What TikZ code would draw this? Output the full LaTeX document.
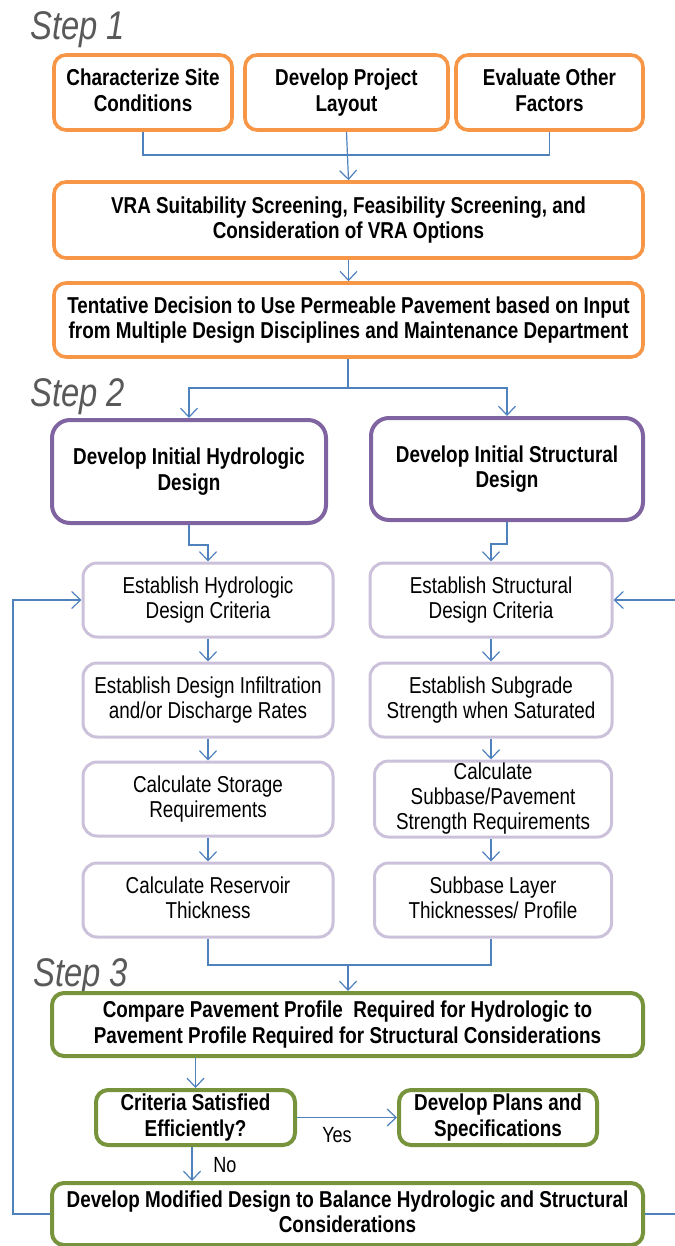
\documentclass[tikz,border=0pt]{standalone}
\usepackage{fontspec}
\setmainfont{Liberation Sans}[FakeStretch=0.82]
\usetikzlibrary{arrows.meta}
\definecolor{orng}{HTML}{F79646}
\definecolor{purp}{HTML}{8064A2}
\definecolor{lav}{HTML}{CCC1DA}
\definecolor{grn}{HTML}{77933C}
\definecolor{arr}{HTML}{4F81BD}
\definecolor{stepgray}{HTML}{595959}
\newcommand{\mystrut}{\rule[-5pt]{0pt}{26.5pt}}
\tikzset{
  box/.style={draw, rounded corners=12pt, fill=white, align=center, inner sep=0pt,
    font=\fontsize{23}{25.5}\selectfont\bfseries,
    execute at begin node=\mystrut, execute at end node=\mystrut},
  obox/.style={box, draw=orng, line width=3.6pt},
  pbox/.style={box, draw=purp, line width=4pt, rounded corners=18pt},
  lbox/.style={box, draw=lav, line width=3pt, rounded corners=14pt,
    font=\fontsize{23}{25}\selectfont},
  gbox/.style={box, draw=grn, line width=4pt},
  conn/.style={draw=arr, line width=1.2pt},
  arw/.style={conn, -{Straight Barb[length=9pt,width=17pt,line width=1.2pt]}},
  steplbl/.style={font=\fontsize{40}{42}\selectfont\itshape, text=stepgray, anchor=base west, inner sep=0pt},
  lbl/.style={font=\fontsize{22}{24}\selectfont, inner sep=0pt}
}
\begin{document}
\begin{tikzpicture}[x=1pt,y=-1pt]
\useasboundingbox (0,0) rectangle (674,1246);
% Step labels
\node[steplbl] (s1) at (30,40) {Step 1};
\node[steplbl] (s2) at (30,406) {Step 2};
\node[steplbl] (s3) at (33,986) {Step 3};
% Step 1
\node[obox, minimum width=178pt, minimum height=75pt] (A) at (143,92.5) {Characterize Site\\Conditions};
\node[obox, minimum width=203pt, minimum height=75pt] (B) at (346.5,92.5) {Develop Project\\Layout};
\node[obox, minimum width=187pt, minimum height=75pt] (C) at (549.5,92.5) {Evaluate Other\\Factors};
\node[obox, minimum width=589pt, minimum height=76pt] (V) at (348.5,220) {VRA Suitability Screening, Feasibility Screening, and\\Consideration of VRA Options};
\node[obox, minimum width=589pt, minimum height=74pt] (T) at (348.5,320) {Tentative Decision to Use Permeable Pavement based on Input\\from Multiple Design Disciplines and Maintenance Department};
% Step 2
\node[pbox, minimum width=274pt, minimum height=103pt] (H) at (189,471.5) {Develop Initial Hydrologic\\Design};
\node[pbox, minimum width=272pt, minimum height=102pt] (S) at (507,469) {Develop Initial Structural\\Design};
\node[lbox, minimum width=250pt, minimum height=74pt] (L1) at (208,600) {Establish Hydrologic\\Design Criteria};
\node[lbox, minimum width=250pt, minimum height=74pt] (L2) at (208,700) {Establish Design Infiltration\\and/or Discharge Rates};
\node[lbox, minimum width=250pt, minimum height=74pt] (L3) at (208,799) {Calculate Storage\\Requirements};
\node[lbox, minimum width=250pt, minimum height=74pt] (L4) at (208,900) {Calculate Reservoir\\Thickness};
\node[lbox, minimum width=242pt, minimum height=74pt] (R1) at (491,600) {Establish Structural\\Design Criteria};
\node[lbox, minimum width=242pt, minimum height=74pt] (R2) at (491,700) {Establish Subgrade\\Strength when Saturated};
\node[lbox, minimum width=237pt, minimum height=76pt] (R3) at (493,799) {Calculate\\Subbase/Pavement\\Strength Requirements};
\node[lbox, minimum width=237pt, minimum height=74pt] (R4) at (493,900) {Subbase Layer\\Thicknesses/ Profile};
% Step 3
\node[gbox, minimum width=591pt, minimum height=63pt] (P) at (347.5,1024.5) {Compare Pavement Profile\ \ Required for Hydrologic to\\Pavement Profile Required for Structural Considerations};
\node[gbox, minimum width=199pt, minimum height=55pt] (Q) at (195.5,1117.5) {Criteria Satisfied\\Efficiently?};
\node[gbox, minimum width=198pt, minimum height=55pt] (D) at (498,1117.5) {Develop Plans and\\Specifications};
\node[gbox, minimum width=591pt, minimum height=62pt] (M) at (347.5,1214) {Develop Modified Design to Balance Hydrologic and Structural\\Considerations};
% connectors step 1
\coordinate (j1) at (347,155);
\draw[conn] (A.south) |- (j1);
\draw[conn] (C.south) |- (j1);
\draw[arw] (B.south) -- (V.north);
\draw[arw] (V.south) -- (V.south |- T.north);
\coordinate (j2) at (348,388);
\draw[conn] (T.south -| j2) -- (j2);
\draw[arw] (j2) -| (H.north);
\draw[arw] (j2) -| (S.north);
% step 2
\draw[arw] (H.south) -- ++(0,20) -| (L1.north);
\draw[arw] (S.south) -- ++(0,22) -| (R1.north);
\draw[arw] (L1.south) -- (L2.north);
\draw[arw] (L2.south) -- (L3.north);
\draw[arw] (L3.south) -- (L4.north);
\draw[arw] (R1.south) -- (R2.north);
\draw[arw] (R2.south -| R1.south) -- (R1.south |- R3.north);
\draw[arw] (R3.south -| R1.south) -- (R1.south |- R4.north);
\coordinate (j3) at (348,965);
\draw[conn] (L4.south) |- (j3);
\draw[conn] (R4.south -| R1.south) |- (j3);
\draw[arw] (j3) -- (j3 |- P.north);
% step 3
\draw[arw] (P.south -| Q.north) -- (Q.north);
\draw[arw] (Q.east) -- (D.west);
\node[lbl] (yes) at (337,1135) {Yes};
\draw[arw] (Q.south -| 192,0) -- (M.north -| 192,0);
\node[lbl] (no) at (225,1165) {No};
\coordinate (lp) at (13,1214);
\coordinate (rp) at (676,1214);
\draw[arw] (M.west) -- (lp) |- (L1.west);
\draw[arw] (M.east) -- (rp) |- (R1.east);
\end{tikzpicture}
\end{document}
